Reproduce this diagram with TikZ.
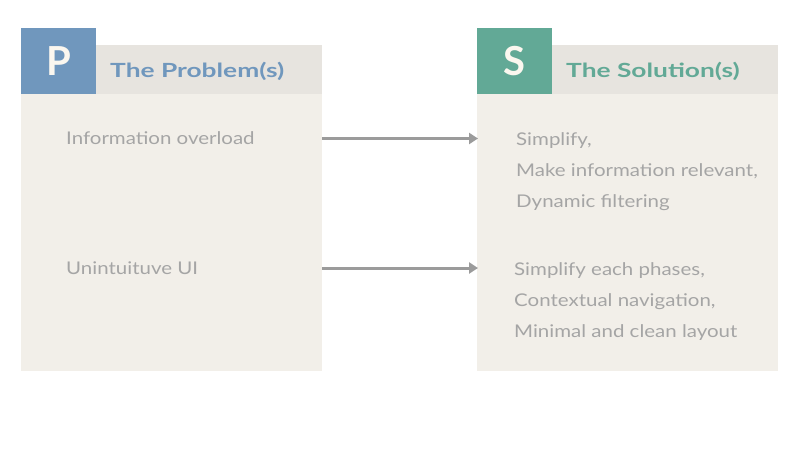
\documentclass[tikz,border=0pt]{standalone}
\usepackage{fontspec}
\setmainfont{Lato}
\newfontfamily\bodyfont[FakeStretch=1.17]{Lato}
\newfontfamily\headfont[FakeStretch=1.35]{Lato}
\usetikzlibrary{arrows.meta}
\definecolor{bodybg}{HTML}{F2EFE9}
\definecolor{headbg}{HTML}{E7E4DF}
\definecolor{pblue}{HTML}{7097BD}
\definecolor{steal}{HTML}{62A996}
\definecolor{txtgray}{HTML}{A5A5A5}
\definecolor{arrgray}{HTML}{9B9B9B}
\definecolor{letterc}{HTML}{FBF7EF}
\tikzset{
  panel/.style={fill=bodybg, draw=none},
  headband/.style={fill=headbg, draw=none},
  letterbox/.style={draw=none, minimum width=75pt, minimum height=66pt, inner sep=0pt, anchor=south west, text=letterc, font=\fontsize{40}{40}\selectfont\bfseries},
  headtxt/.style={anchor=west, inner sep=0pt, font=\headfont\fontsize{19.5}{19.5}\selectfont\bfseries},
  bodytxt/.style={anchor=west, inner sep=0pt, text=txtgray, font=\bodyfont\fontsize{17.5}{31}\selectfont, align=left},
  conn/.style={draw=arrgray, line width=3pt, -{Triangle[length=9pt,width=11pt]}}
}
\begin{document}
\begin{tikzpicture}[x=1pt,y=-1pt]
\useasboundingbox[fill=white] (0,0) rectangle (800,450);
% left panel
\fill[panel] (21,94) rectangle (322,371);
\fill[headband] (21,45) rectangle (322,94);
\node[letterbox, fill=pblue] (P) at (21,94) {P};
\node[headtxt, text=pblue] (ph) at (110,71) {The Problem(s)};
% right panel
\fill[panel] (477,94) rectangle (778,371);
\fill[headband] (477,45) rectangle (778,94);
\node[letterbox, fill=steal] (S) at (477,94) {S};
\node[headtxt, text=steal] (sh) at (566,71) {The Solution(s)};
% texts
\node[bodytxt] (p1) at (66,138) {Information overload};
\node[bodytxt] (p2) at (66,268) {Unintuituve UI};
\node[bodytxt, anchor=north west] (s1) at (516,132) {Simplify,\\Make information relevant,\\Dynamic filtering};
\node[bodytxt, anchor=north west] (s2) at (514,262) {Simplify each phases,\\Contextual navigation,\\Minimal and clean layout};
% connectors
\coordinate (a1s) at (322,138.5);
\coordinate (a1e) at (478,138.5);
\coordinate (a2s) at (322,268);
\coordinate (a2e) at (478,268);
\draw[conn] (a1s) -- (a1e);
\draw[conn] (a2s) -- (a2e);
\end{tikzpicture}
\end{document}
